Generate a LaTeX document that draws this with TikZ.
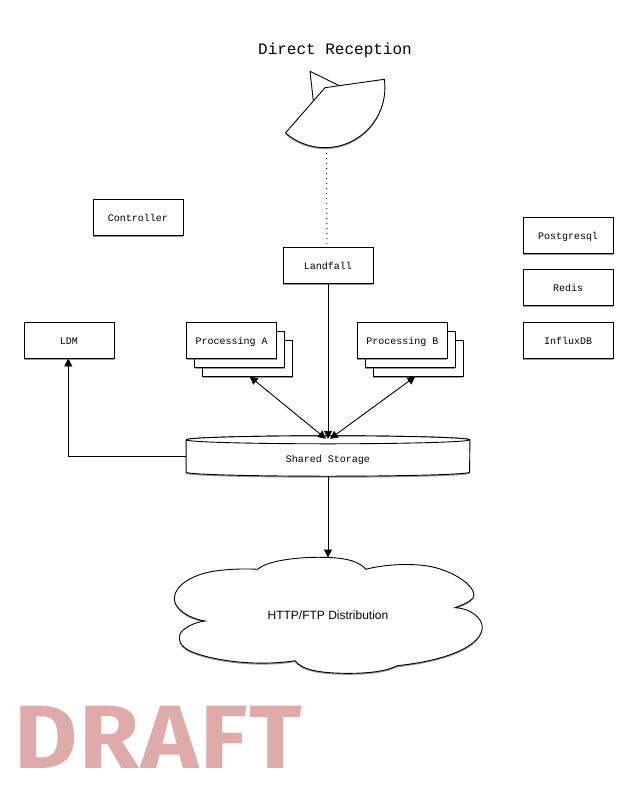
\documentclass[tikz,border=0pt]{standalone}
\usepackage{fontspec}
\setmainfont{Liberation Sans}
\setmonofont{Liberation Mono}
\newfontfamily\draftfont{Fira Sans}[FakeStretch=1.08,LetterSpace=2]
\usetikzlibrary{arrows.meta,shadows,backgrounds}
\definecolor{draftpink}{RGB}{222,171,169}

\tikzset{
  shade1/.style={drop shadow={shadow xshift=0pt,shadow yshift=-1.5pt,opacity=.4,fill=black}},
  box/.style={draw,fill=white,rectangle,minimum width=90pt,minimum height=36pt,inner sep=0pt,line width=.9pt,font=\ttfamily\fontsize{10}{12}\selectfont,text height=8.5pt,text depth=.5pt,shade1},
  line/.style={line width=.9pt},
  arrow/.style={line,-{Triangle[length=8pt,width=8pt]}},
  dblarrow/.style={line,{Triangle[length=8pt,width=8pt]}-{Triangle[length=8pt,width=8pt]}},
}

\begin{document}
\begin{tikzpicture}[x=1pt,y=-1pt]
\useasboundingbox (0,0) rectangle (628,809);

\node[font=\ttfamily\fontsize{16}{18}\selectfont] (title) at (335,50.5) {Direct Reception};

% dish
\draw[line,fill=white,line join=round] (313.3,100.7) -- (310,71.3) -- (339.3,85.7);
\draw[line,fill=white,line join=round,shade1] (325,87.7) -- (384.3,79.3) arc[start angle=8,end angle=-131,radius=60pt] -- cycle;
\coordinate (dishfoot) at (326.5,153);

\node[box] (controller) at (138,217) {Controller};
\node[box] (landfall) at (328,265) {Landfall};
\node[box] (postgresql) at (568,235) {Postgresql};
\node[box] (redis) at (568,287) {Redis};
\node[box] (influxdb) at (568,340) {InfluxDB};
\node[box] (ldm) at (69,340) {LDM};

\node[box] (procA3) at (247.7,358) {};
\node[box] (procA2) at (239.7,349) {};
\node[box] (procA) at (231.7,340.5) {Processing A};

\node[box] (procB3) at (418.3,358) {};
\node[box] (procB2) at (410.3,349) {};
\node[box] (procB) at (402.3,340.5) {Processing B};

% storage
\node[minimum width=283.5pt,minimum height=32pt,inner sep=0pt,font=\ttfamily\fontsize{10}{12}\selectfont,text height=13pt,text depth=1pt] (storage) at (328,456) {Shared Storage};
\begin{scope}[on background layer]
\draw[line,fill=white,shade1] (storage.north west) -- (storage.south west) arc[start angle=180,end angle=360,x radius=141.75pt,y radius=4pt] -- (storage.north east) arc[start angle=0,end angle=180,x radius=141.75pt,y radius=4pt];
\draw[line,fill=white] (storage.north west) arc[start angle=180,end angle=360,x radius=141.75pt,y radius=4pt] arc[start angle=0,end angle=180,x radius=141.75pt,y radius=4pt];
\end{scope}

% cloud
\draw[line,fill=white,shade1] (257.7,569.3)
  .. controls (268,560) and (300,557) .. (321.7,557.3)
  .. controls (342,557.5) and (358,560) .. (366,569.3)
  .. controls (385,564) and (420,562) .. (440,569)
  .. controls (462,576) and (478,590) .. (473,598)
  .. controls (470,602) and (462,605) .. (455,607.7)
  .. controls (470,608) and (482,618) .. (482.3,627)
  .. controls (482,645) and (450,660) .. (397.3,665.7)
  .. controls (385,672) and (365,673.5) .. (345,673.3)
  .. controls (320,673) and (302,670) .. (295,660.7)
  .. controls (255,667) and (210,660) .. (190,651)
  .. controls (180,646) and (178,640) .. (180,634)
  .. controls (183,628) and (195,622) .. (205,621)
  .. controls (188,618) and (174,609) .. (174.3,598)
  .. controls (175,584) and (195,574) .. (215,571)
  .. controls (230,569) and (245,568.5) .. (257.7,569.3) -- cycle;
\node[font=\fontsize{12}{14}\selectfont] (distribution) at (328,615) {HTTP/FTP Distribution};
\coordinate (cloudtop) at (328,557.5);

% links
\draw[line,dash pattern=on 1pt off 4pt] (dishfoot) -- ([xshift=-1pt]landfall.north);
\draw[arrow] (landfall.south) -- ([yshift=1pt]storage.north);
\draw[dblarrow] ([xshift=2pt]procA3.south) -- ([xshift=-2pt,yshift=1pt]storage.north);
\draw[dblarrow] ([xshift=-3pt]procB3.south) -- ([xshift=2pt,yshift=1pt]storage.north);
\draw[arrow] (storage.west) -| ([xshift=-.7pt]ldm.south);
\draw[arrow] ([yshift=-4pt]storage.south) -- (cloudtop);

\node[anchor=base west,inner sep=0pt,text=draftpink,font=\draftfont\bfseries\fontsize{90}{92}\selectfont] (draft) at (14,768) {DRAFT};
\end{tikzpicture}
\end{document}
